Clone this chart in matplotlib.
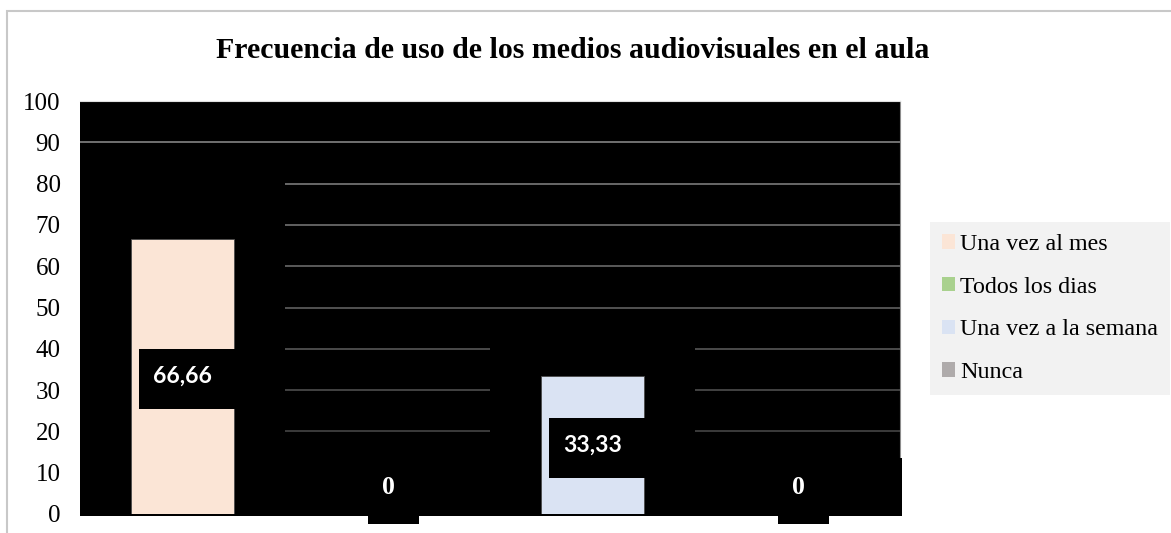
import numpy as np
import matplotlib.pyplot as plt
from matplotlib.patches import Rectangle
from matplotlib.transforms import IdentityTransform

categorias = ['Una vez al mes', 'Todos los dias', 'Una vez a la semana', 'Nunca']
valores = [66.66, 0, 33.33, 0]
etiquetas = ['66,66', '0', '33,33', '0']
colores = ['#FBE5D6', '#A9D18E', '#DAE3F3', '#AFABAB']
yticks = list(range(0, 101, 10))

W, H = 1171, 533
serif = ['Liberation Serif', 'DejaVu Serif']


def main():
    fig = plt.figure(figsize=(W / 100, H / 100), dpi=100)
    fig.patch.set_facecolor('white')

    # outer chart border (cut at right and bottom)
    fig.add_artist(Rectangle((7 / W, -0.1), 1.2, (H - 11) / H + 0.1,
                             transform=fig.transFigure, fill=False,
                             ec='#c8c8c8', lw=1.5))

    ax = fig.add_axes([80 / W, (H - 514) / H, 820 / W, 413 / H])
    ax.set_facecolor('black')
    ax.set_xlim(-0.5, len(categorias) - 0.5)
    ax.set_ylim(0, 100)

    # gridlines, lighter at the top and darker near the bottom
    for t in yticks[1:]:
        g = 0.2 + 0.35 * t / 100
        ax.axhline(t, color=(g, g, g), lw=1.2, zorder=0.5)

    # black blocks hiding the gridlines behind each category
    tapa = [80.8, 14.2, 43.5, 13.6]
    for i, top in enumerate(tapa):
        x0 = i - 0.5
        w = 1.0 if i < len(tapa) - 1 else 1.012
        ax.add_patch(Rectangle((x0, -0.5), w, top + 0.5, fc='black',
                               ec='none', zorder=1, clip_on=False))

    x = np.arange(len(categorias))
    bars = ax.bar(x, valores, width=0.5, color=colores, edgecolor='#4a4a4a',
                  linewidth=0.6, zorder=2)

    fig.canvas.draw()
    for i, (v, lab) in enumerate(zip(valores, etiquetas)):
        if v > 0:
            tx, ty = ax.transData.transform((i, v / 2))
            fam = ['Lato', 'DejaVu Sans']
            bw, bh = 97, 60
            fs = 16.5
        else:
            tx, ty = ax.transData.transform((i, 0))
            tx += 1
            ty += 27
            fam = serif
            bw, bh = 51, 67
            fs = 18.5
        cx, cy = tx + 5, ty - 3
        ax.add_patch(Rectangle((cx - bw / 2, cy - bh / 2), bw, bh,
                               transform=IdentityTransform(), fc='black',
                               ec='none', zorder=3, clip_on=False))
        ax.text(tx, ty, lab, transform=IdentityTransform(), ha='center',
                va='center', color='white', fontsize=fs, fontweight='bold',
                family=fam, zorder=4)

    ax.set_xticks([])
    ax.set_yticks(yticks)
    ax.set_yticklabels([str(t) for t in yticks], family=serif, fontsize=18)
    ax.tick_params(axis='y', length=0, pad=14)
    ax.spines['left'].set_visible(False)
    ax.spines['bottom'].set_visible(False)
    ax.spines['top'].set_color('#e0e0e0')
    ax.spines['right'].set_color('#8c8c8c')
    ax.spines['right'].set_zorder(0.6)

    fig.text(573 / W, (H - 50) / H,
             'Frecuencia de uso de los medios audiovisuales en el aula',
             ha='center', va='center', family=serif, fontsize=21.5,
             fontweight='bold')

    leg = fig.legend(bars, categorias, loc='upper left',
                     bbox_to_anchor=(930 / W, (H - 222) / H),
                     prop={'family': serif, 'size': 17.3}, frameon=True,
                     fancybox=False, facecolor='#F2F2F2', edgecolor='none',
                     framealpha=1, handlelength=0.55, handleheight=0.55,
                     handletextpad=0.2, labelspacing=0.9, borderpad=0.5,
                     borderaxespad=0)
    for h in leg.legend_handles:
        h.set_edgecolor('none')

    plt.savefig('out.png', dpi=100)


if __name__ == '__main__':
    main()
